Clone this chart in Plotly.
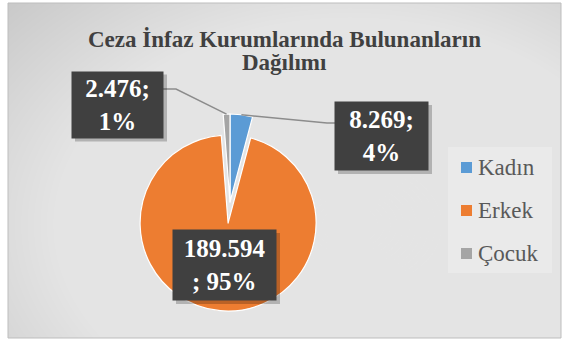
import math
import plotly.graph_objects as go

# Chart data: inmates by group (Turkish thousands separator in labels)
categories = ["Kadın", "Erkek", "Çocuk"]
counts = [8269, 189594, 2476]
colors = ["#5B9BD5", "#ED7D31", "#A5A5A5"]
pulls = [0, 0.24, 0]
title_lines = ["Ceza İnfaz Kurumlarında Bulunanların", "Dağılımı"]

SERIF = "Liberation Serif, Times New Roman, serif"
W, H = 563, 340


def px(x):
    return x / W


def py(y):
    return 1 - y / H


def fmt(n):
    return f"{n:,}".replace(",", ".")


total = sum(counts)
pcts = [round(100 * c / total) for c in counts]


def label_text(n, p):
    num = fmt(n)
    if len(num) > 6:
        return f"{num}<br>; {p}%"
    return f"{num};<br>{p}%"


# pie geometry (pixels)
cx, cy, r = 230, 202, 88
half = r * (1 + max(pulls))

fig = go.Figure()
fig.add_trace(go.Pie(
    labels=categories,
    values=counts,
    sort=False,
    direction="clockwise",
    rotation=0,
    pull=pulls,
    marker=dict(colors=colors, line=dict(color="#ffffff", width=1.2)),
    textinfo="none",
    hoverinfo="label+value+percent",
    showlegend=False,
    domain=dict(x=[px(cx - half), px(cx + half)], y=[py(cy + half), py(cy - half)]),
))

shapes = []
# chart area fill
shapes.append(dict(type="rect", xref="paper", yref="paper", layer="below",
                   x0=px(8), x1=px(561), y0=py(338), y1=py(3),
                   fillcolor="#c8c8c8", line=dict(width=0)))
# soft radial highlight
gx, gy = 350, 225
n_rings = 70
for i in range(n_rings):
    rx = 470 - i * 6.4
    ry = rx * 0.7
    shapes.append(dict(type="circle", xref="paper", yref="paper", layer="below",
                       x0=px(gx - rx), x1=px(gx + rx),
                       y0=py(gy + ry), y1=py(gy - ry),
                       fillcolor="rgba(255,255,255,0.035)", line=dict(width=0)))
# white outside of the chart area
for x0, x1, y0, y1 in [(-50, 8, -50, 400), (561, 620, -50, 400),
                       (-50, 620, -50, 3), (-50, 620, 338, 400)]:
    shapes.append(dict(type="rect", xref="paper", yref="paper", layer="below",
                       x0=px(x0), x1=px(x1), y0=py(y1), y1=py(y0),
                       fillcolor="#ffffff", line=dict(width=0)))
shapes.append(dict(type="rect", xref="paper", yref="paper", layer="below",
                   x0=px(8), x1=px(561), y0=py(338), y1=py(3),
                   fillcolor="rgba(0,0,0,0)", line=dict(color="#bdbdbd", width=1)))

# data label boxes: (center x, center y, width, height)
boxes = {
    "Kadın": (381.5, 136, 93, 68),
    "Erkek": (224.5, 265, 103, 70),
    "Çocuk": (117.5, 104.5, 91, 66),
}
# leader line elbows and box attachment points
leaders = {
    "Kadın": [(327, 123), (335, 123)],
    "Çocuk": [(176, 89), (163, 89)],
}

cum = 0
annotations = []
for cat, n, p in zip(categories, counts, pcts):
    mid = (cum + n / 2) / total * 2 * math.pi
    cum += n
    bx, by, bw, bh = boxes[cat]
    if cat in leaders:
        sx, sy = cx + r * math.sin(mid), cy - r * math.cos(mid)
        pts = [(sx, sy)] + leaders[cat]
        path = "M " + " L ".join(f"{px(a)},{py(b)}" for a, b in pts)
        shapes.append(dict(type="path", xref="paper", yref="paper", layer="above",
                           path=path, line=dict(color="#8c8c8c", width=1.5)))
    # drop shadow
    shapes.append(dict(type="rect", xref="paper", yref="paper", layer="above",
                       x0=px(bx - bw / 2 + 3), x1=px(bx + bw / 2 + 4),
                       y0=py(by + bh / 2 + 4), y1=py(by - bh / 2 + 3),
                       fillcolor="rgba(0,0,0,0.22)", line=dict(width=0)))
    annotations.append(dict(
        xref="paper", yref="paper", x=px(bx), y=py(by),
        xanchor="center", yanchor="middle", showarrow=False,
        text=f"<b>{label_text(n, p)}</b>",
        font=dict(family=SERIF, size=25, color="#ffffff"),
        bgcolor="#404040", width=bw, height=bh, borderpad=0, align="center",
    ))

# title, one annotation per line for tight line spacing
for line, ty in zip(title_lines, [39, 62]):
    annotations.append(dict(
        xref="paper", yref="paper", x=px(284), y=py(ty),
        xanchor="center", yanchor="middle", showarrow=False,
        text=f"<b>{line}</b>",
        font=dict(family=SERIF, size=23, color="#404040"),
    ))

# legend
shapes.append(dict(type="rect", xref="paper", yref="paper", layer="below",
                   x0=px(448), x1=px(552), y0=py(273), y1=py(147),
                   fillcolor="rgba(255,255,255,0.22)", line=dict(width=0)))
leg_y = [167.5, 210.5, 253.5]
for cat, col, ly in zip(categories, colors, leg_y):
    shapes.append(dict(type="rect", xref="paper", yref="paper", layer="above",
                       x0=px(461), x1=px(472), y0=py(ly + 5.5), y1=py(ly - 5.5),
                       fillcolor=col, line=dict(width=0)))
    annotations.append(dict(
        xref="paper", yref="paper", x=px(476), y=py(ly),
        xanchor="left", yanchor="middle", showarrow=False, text=cat,
        font=dict(family=SERIF, size=23, color="#595959"),
    ))

fig.update_layout(
    width=W, height=H,
    margin=dict(l=0, r=0, t=0, b=0),
    paper_bgcolor="#ffffff",
    plot_bgcolor="#ffffff",
    shapes=shapes,
    annotations=annotations,
    showlegend=False,
)

fig.write_html("out.html")
